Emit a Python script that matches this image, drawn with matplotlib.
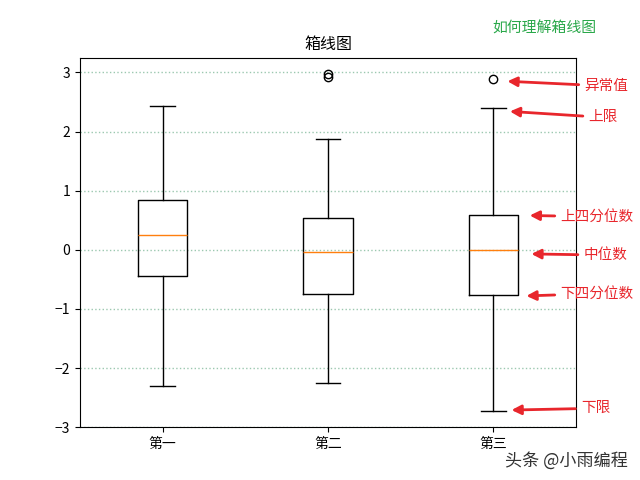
import matplotlib
matplotlib.use("Agg")
import matplotlib.pyplot as plt

plt.rcParams['font.family'] = ['Noto Sans CJK SC', 'DejaVu Sans']
plt.rcParams['axes.unicode_minus'] = True

labels = ['第一', '第二', '第三']
whislo = [-2.31, -2.26, -2.72]
q1 = [-0.44, -0.75, -0.77]
med = [0.25, -0.04, -0.01]
q3 = [0.85, 0.53, 0.59]
whishi = [2.44, 1.87, 2.39]
fliers = [[], [2.92, 2.98], [2.88]]

# annotation: text, arrow tip (x, y), text position (x, y)
notes = ['异常值', '上限', '上四分位数', '中位数', '下四分位数', '下限']
tip_x = [3.085, 3.10, 3.22, 3.23, 3.20, 3.11]
tip_y = [2.85, 2.34, 0.58, -0.07, -0.78, -2.71]
txt_x = [3.55, 3.575, 3.405, 3.545, 3.405, 3.53]
txt_y = [2.77, 2.24, 0.56, -0.09, -0.74, -2.68]

stats = []
for i in range(len(labels)):
    stats.append(dict(label=labels[i], whislo=whislo[i], q1=q1[i], med=med[i],
                      q3=q3[i], whishi=whishi[i], fliers=fliers[i]))

fig, ax = plt.subplots(figsize=(6.4, 4.8), dpi=100)
ax.bxp(stats, positions=[1, 2, 3])
ax.set_xlim(0.5, 3.5)
ax.set_ylim(-3, 3.25)
ax.yaxis.grid(True, linestyle=':', color='#9cc8b0', linewidth=1)
ax.set_axisbelow(True)
ax.set_title('箱线图', fontsize=11.5)

for t, tx, ty, sx, sy in zip(notes, tip_x, tip_y, txt_x, txt_y):
    ax.annotate(t, xy=(tx, ty), xytext=(sx, sy), color='#e8262c', fontsize=10.5,
                va='center', ha='left', annotation_clip=False,
                arrowprops=dict(arrowstyle='-|>', color='#e8262c', lw=2,
                                mutation_scale=14, shrinkA=2, shrinkB=0))

fig.text(0.77, 0.933, '如何理解箱线图', color='#2aa84a', fontsize=10.7)
fig.text(0.789, 0.04, '头条 @小雨编程', color='#333333', fontsize=12.3, va='center')

plt.savefig('out.png')
